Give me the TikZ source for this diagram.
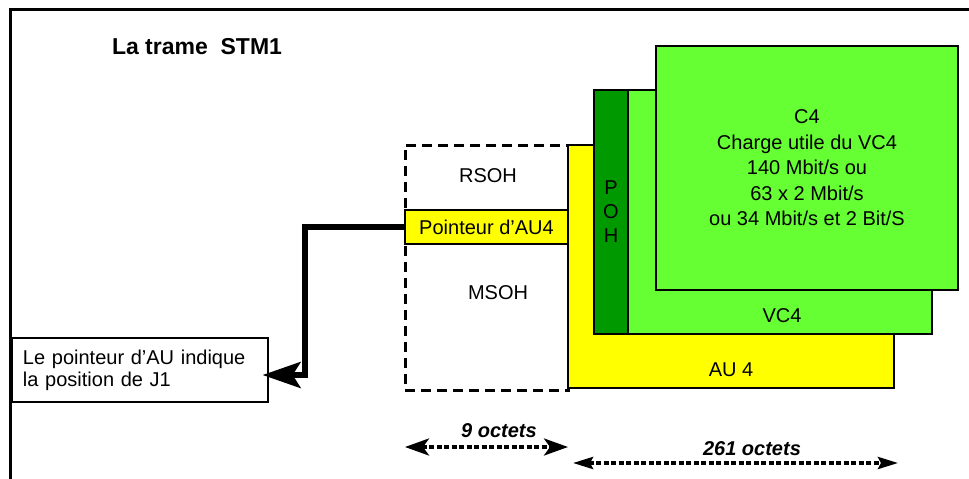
\documentclass[tikz,border=0pt]{standalone}
\usepackage{fontspec}
\setmainfont{Liberation Sans}
\usetikzlibrary{arrows.meta,positioning}

\definecolor{auyellow}{HTML}{FFFF00}
\definecolor{vcgreen}{HTML}{66FF33}
\definecolor{pohgreen}{HTML}{009900}

\begin{document}
\begin{tikzpicture}[
    x=1pt, y=-1pt,
    every node/.style={font=\fontsize{20}{24}\selectfont, inner sep=0pt},
    block/.style={rectangle, draw=black, line width=1.5pt},
    soh/.style={rectangle, draw=black, line width=3pt, dash pattern=on 10pt off 6pt},
    tag/.style={draw=none, fill=none},
    ptrarrow/.style={line width=5.5pt, -{Stealth[length=38pt, width=26pt, inset=8pt]}},
    dimarrow/.style={line width=3.5pt, dash pattern=on 5pt off 2.5pt},
    dimtip/.style={{Stealth[length=24pt, width=17pt, inset=6pt]}-{Stealth[length=24pt, width=17pt, inset=6pt]}},
    dimtipb/.style={{Stealth[length=20pt, width=12pt, inset=3pt]}-{Stealth[length=20pt, width=12pt, inset=3pt]}}
]
\useasboundingbox (0,0) rectangle (969,479);

% Frame
\draw[line width=3pt] (980,9) -- (10,9) -- (10,490);
\node[tag, font=\fontsize{23}{26}\selectfont\bfseries] (title) at (197,47) {La trame\ \ STM1};

% Section overhead
\node[soh, minimum width=163pt, minimum height=245pt] (sohbox) at (486.5,267.5) {};
\node[tag] (rsoh) at (488,176) {RSOH};
\node[tag] (msoh) at (498,293) {MSOH};

% AU4, VC4, C4
\node[block, fill=auyellow, minimum width=326pt, minimum height=243pt] (au4) at (731,266.5) {};
\node[block, fill=auyellow, line width=2pt, minimum width=163pt, minimum height=34pt] (ptr) at (486.5,227) {Pointeur d'AU4};
\node[block, fill=vcgreen, minimum width=338pt, minimum height=244pt] (vc4) at (763,212) {};
\node[block, fill=pohgreen, line width=2.5pt, minimum width=34pt, minimum height=244pt, align=center,
      text=black] (poh) at (611,212) {P\\O\\H};
\node[block, fill=vcgreen, minimum width=302pt, minimum height=244pt, align=center,
      font=\fontsize{20}{25.5}\selectfont] (c4) at (807,168)
      {C4\\Charge utile du VC4\\140 Mbit/s ou\\63 x 2 Mbit/s\\ou 34 Mbit/s et 2 Bit/S};
\node[tag] (vc4lbl) at (782,316) {VC4};
\node[tag] (au4lbl) at (731,370) {AU 4};

% Note
\node[rectangle, draw=black, line width=1.2pt, fill=white, text width=234pt, inner xsep=11pt,
      minimum height=64pt, align=left, font=\fontsize{20}{22}\selectfont] (note) at (140,370)
      {Le pointeur d'AU indique\\la position de J1};

% Pointer arrow
\coordinate (bend) at (305,227);
\draw[ptrarrow, shorten >=-6pt] (ptr.west) -- (bend) |- ([yshift=-5pt]note.east);

% Widths
\coordinate (l9) at (405,447);
\coordinate (r9) at (568,447);
\draw[dimarrow, dimtip] (l9) -- (r9);
\node[tag, font=\fontsize{20}{24}\selectfont\bfseries\itshape] (oct9) at (499,431) {9 octets};

\coordinate (l261) at (573,463);
\coordinate (r261) at (898,463);
\draw[dimarrow, dimtipb] (l261) -- (r261);
\node[tag, font=\fontsize{20}{24}\selectfont\bfseries\itshape] (oct261) at (752,449) {261 octets};

\end{tikzpicture}
\end{document}
